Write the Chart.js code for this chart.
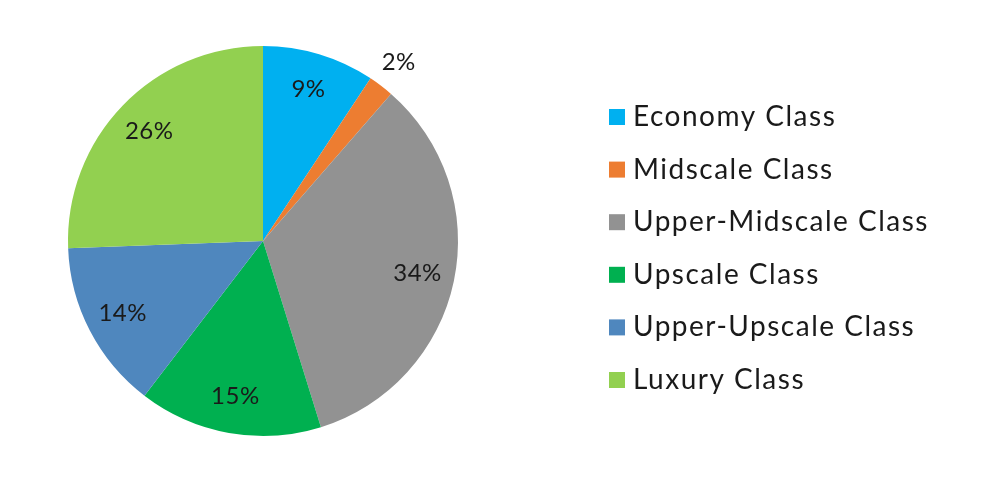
<!DOCTYPE html>
<html>
<head>
<meta charset="utf-8">
<script src="https://cdn.jsdelivr.net/npm/chart.js@4.4.1/dist/chart.umd.min.js"></script>
<style>
  html, body { margin: 0; padding: 0; background: #ffffff; }
  #wrap { width: 996px; height: 496px; position: relative; }
</style>
</head>
<body>
<div id="wrap"><canvas id="c" width="996" height="496"></canvas></div>
<script>
const categories = ["Economy Class", "Midscale Class", "Upper-Midscale Class", "Upscale Class", "Upper-Upscale Class", "Luxury Class"];
const shares = [9.3, 2.1, 33.8, 15.2, 14.0, 25.6];
const colors = ["#00B0F0", "#ED7D31", "#929292", "#00B050", "#4F87BE", "#92D050"];

const FONT = "Lato, 'Open Sans', sans-serif";

const labelPlugin = {
  id: 'sliceLabels',
  afterDatasetsDraw(chart) {
    const ctx = chart.ctx;
    const meta = chart.getDatasetMeta(0);
    const total = shares.reduce((a, b) => a + b, 0);
    ctx.save();
    ctx.font = "24px " + FONT;
    if ('letterSpacing' in ctx) ctx.letterSpacing = "0.5px";
    ctx.fillStyle = "#1a1a1a";
    ctx.textAlign = "center";
    ctx.textBaseline = "middle";
    meta.data.forEach((arc, i) => {
      const p = arc.getProps(['x', 'y', 'startAngle', 'endAngle', 'outerRadius'], true);
      const mid = (p.startAngle + p.endAngle) / 2;
      const pct = shares[i] / total * 100;
      const f = pct < 5 ? 1.15 : 0.81;
      const r = p.outerRadius * f;
      ctx.fillText(Math.round(pct) + "%", p.x + Math.cos(mid) * r, p.y + Math.sin(mid) * r);
    });
    ctx.restore();
  }
};

const legendPlugin = {
  id: 'sideLegend',
  afterDraw(chart) {
    const ctx = chart.ctx;
    ctx.save();
    ctx.font = "28px " + FONT;
    if ('letterSpacing' in ctx) ctx.letterSpacing = "1.5px";
    ctx.textBaseline = "middle";
    ctx.textAlign = "left";
    categories.forEach((name, i) => {
      const cy = 117 + i * 52.6;
      ctx.fillStyle = colors[i];
      ctx.fillRect(609, cy - 8, 16, 16);
      ctx.fillStyle = "#1a1a1a";
      ctx.fillText(name, 633, cy);
    });
    ctx.restore();
  }
};

new Chart(document.getElementById('c'), {
  type: 'pie',
  data: {
    labels: categories,
    datasets: [{
      data: shares,
      backgroundColor: colors,
      borderWidth: 0
    }]
  },
  options: {
    responsive: false,
    animation: false,
    layout: { padding: { left: 0, right: 470, top: 46, bottom: 60 } },
    plugins: {
      legend: { display: false },
      tooltip: { enabled: false }
    }
  },
  plugins: [labelPlugin, legendPlugin]
});
</script>
</body>
</html>
